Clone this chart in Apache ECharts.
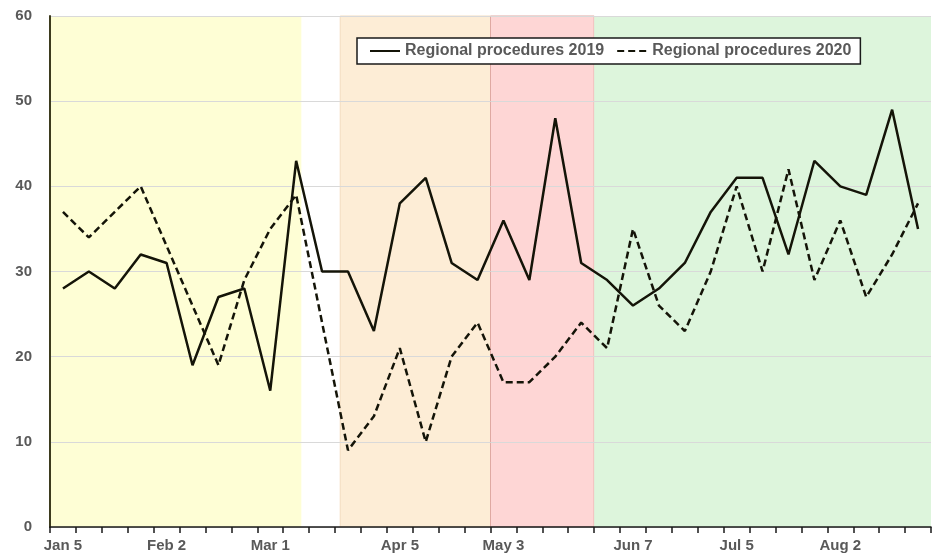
<!DOCTYPE html>
<html>
<head>
<meta charset="utf-8">
<script src="https://cdn.jsdelivr.net/npm/echarts@6/dist/echarts.min.js"></script>
<style>
html,body{margin:0;padding:0;background:#fff;}
#chart{width:933px;height:560px;}
</style>
</head>
<body>
<div id="chart"></div>
<script>
// ---- data ----
var weeks = ['Jan 5','Jan 12','Jan 19','Jan 26','Feb 2','Feb 9','Feb 16','Feb 23','Mar 1','Mar 8',
  'Mar 15','Mar 22','Mar 29','Apr 5','Apr 12','Apr 19','Apr 26','May 3','May 10','May 17',
  'May 24','May 31','Jun 7','Jun 14','Jun 21','Jun 28','Jul 5','Jul 12','Jul 19','Jul 26',
  'Aug 2','Aug 9','Aug 16','Aug 23'];
var tickLabels = ['Jan 5','Feb 2','Mar 1','Apr 5','May 3','Jun 7','Jul 5','Aug 2'];
var proc2019 = [28,30,28,32,31,19,27,28,16,43,30,30,23,38,41,31,29,36,29,48,31,29,26,28,31,37,41,41,32,43,40,39,49,35];
var proc2020 = [37,34,37,40,33,26,19,29,35,39,24,9,13,21,10,20,24,17,17,20,24,21,35,26,23,30,40,30,42,29,36,27,32,38];
var seriesNames = ['Regional procedures 2019','Regional procedures 2020'];
// phase periods in week units (0 = start of first week)
var phaseStart = [0, 11.2, 17, 21];
var phaseEnd   = [9.7, 17, 21, 34];
var yTicks = [0, 60, 10]; // min, max, interval

// ---- styles ----
var phaseColors = ['#fefed5', '#fdedd6', '#fed6d5', '#ddf5dc'];
var phaseBorders = ['#fefed5', '#f3dcc0', '#dfa9a2', '#ddf5dc'];
var labelColor = '#595959';
var font = 'Liberation Sans, Arial, sans-serif';

var areas = phaseStart.map(function (s, i) {
  return [
    { xAxis: s, itemStyle: { color: phaseColors[i], borderColor: phaseBorders[i], borderWidth: (i === 1 || i === 2) ? 1 : 0 } },
    { xAxis: phaseEnd[i] }
  ];
});

var chart = echarts.init(document.getElementById('chart'));
chart.setOption({
  animation: false,
  backgroundColor: '#fff',
  grid: { left: 50, right: 2, top: 16, bottom: 33, containLabel: false },
  legend: {
    left: 357, top: 38,
    padding: [5, 9, 5, 12],
    itemWidth: 30, itemHeight: 1, itemGap: 12,
    itemStyle: { opacity: 0 },
    borderColor: '#1a1a1a', borderWidth: 1.5, backgroundColor: '#fff',
    textStyle: { color: labelColor, fontSize: 16, fontWeight: 'bold', fontFamily: font },
    data: seriesNames
  },
  xAxis: [{
    type: 'category',
    data: weeks,
    boundaryGap: true,
    z: 1.5,
    axisLine: { show: true, lineStyle: { color: '#1a1a1a', width: 1.5 } },
    axisTick: { show: true, interval: 0, length: 6, lineStyle: { color: '#1a1a1a', width: 1.5 } },
    axisLabel: {
      interval: function (idx, val) { return tickLabels.indexOf(val) >= 0; },
      color: labelColor, fontSize: 15, fontWeight: 'bold', margin: 11, fontFamily: font
    },
    splitLine: { show: false }
  }, {
    type: 'value', min: 0, max: 34, show: false
  }],
  yAxis: {
    type: 'value', min: yTicks[0], max: yTicks[1], interval: yTicks[2],
    z: 1.5,
    axisLine: { show: true, lineStyle: { color: '#3d3b1e', width: 2 } },
    axisTick: { show: false },
    axisLabel: { color: labelColor, fontSize: 15, fontWeight: 'bold', margin: 18, fontFamily: font },
    splitLine: { show: true, lineStyle: { color: '#d9d9d9', width: 1 } }
  },
  series: [{
    type: 'line', xAxisIndex: 1, data: [], silent: true,
    markArea: { silent: true, data: areas }
  }, {
    name: seriesNames[0], type: 'line', data: proc2019,
    symbol: 'none', z: 3,
    lineStyle: { color: '#141408', width: 2.5, type: 'solid' },
    itemStyle: { color: '#141408' }
  }, {
    name: seriesNames[1], type: 'line', data: proc2020,
    symbol: 'none', z: 3,
    lineStyle: { color: '#141408', width: 2.5, type: [7, 4] },
    itemStyle: { color: '#141408' }
  }]
});
</script>
</body>
</html>
